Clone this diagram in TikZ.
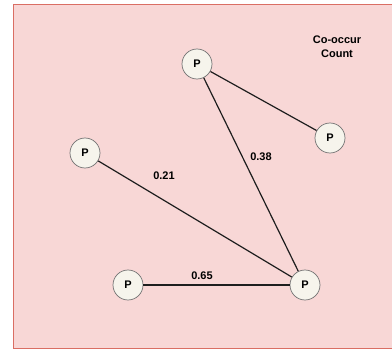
\documentclass[tikz,border=0pt]{standalone}
\usepackage{fontspec}
\setmainfont{Liberation Sans}
\begin{document}
\begin{tikzpicture}[x=1pt,y=-1pt,
  pnode/.style={circle,draw=black!55,fill={rgb,255:red,246;green,244;blue,236},line width=0.7pt,minimum size=30pt,inner sep=0pt,font=\bfseries\fontsize{11}{12}\selectfont},
  lbl/.style={font=\bfseries\fontsize{11}{12}\selectfont,inner sep=1pt},
  edge/.style={line width=1.2pt,draw={rgb,255:red,30;green,30;blue,30}}]
\useasboundingbox (0,0) rectangle (392,353);
\fill[white] (0,0) rectangle (392,353);
\draw[fill={rgb,255:red,248;green,215;blue,214},draw={rgb,255:red,218;green,110;blue,100},line width=0.8pt] (13.5,4.5) rectangle (396,348.5);
\node[pnode] (t) at (197,64) {P};
\node[pnode] (r) at (330,138) {P};
\node[pnode] (l) at (85,153) {P};
\node[pnode] (bl) at (128,285) {P};
\node[pnode] (br) at (305,285) {P};
\draw[edge] (t) -- (r);
\draw[edge] (t) -- (br);
\draw[edge] (l) -- (br);
\draw[edge] (bl) -- (br);
\node[lbl] (l38) at (261,157) {0.38};
\node[lbl] (l21) at (164,176) {0.21};
\node[lbl] (l65) at (202,276) {0.65};
\node[lbl,align=center,font=\bfseries\fontsize{11}{14}\selectfont] (title) at (337,47) {Co-occur\\Count};
\end{tikzpicture}
\end{document}
